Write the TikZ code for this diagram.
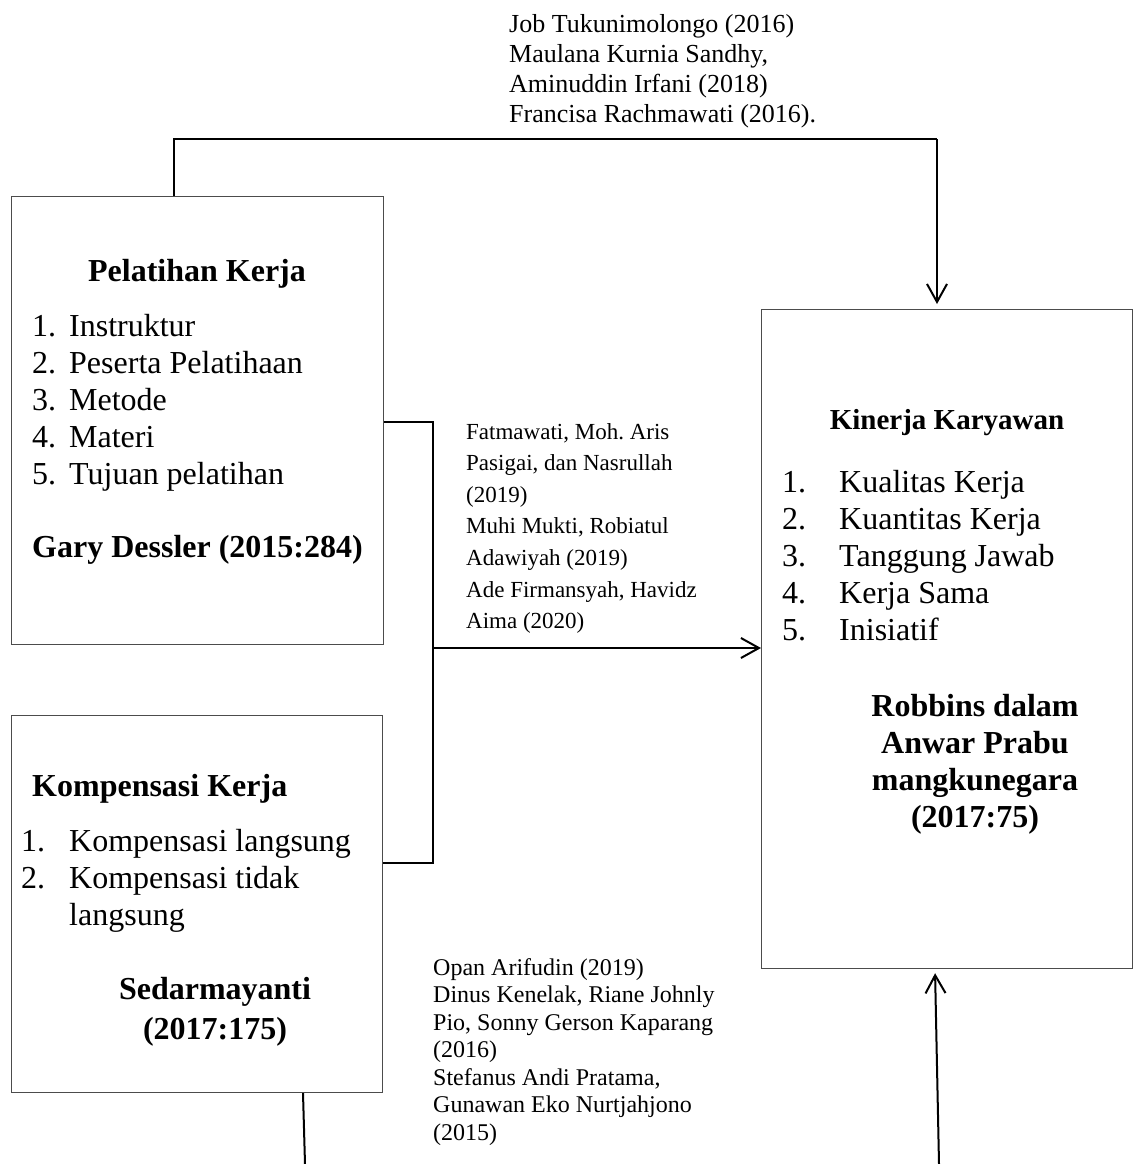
\documentclass[tikz,border=0pt]{standalone}
\usepackage{fontspec}
\setmainfont{Liberation Serif}
\usetikzlibrary{arrows.meta}
\frenchspacing
\begin{document}
\begin{tikzpicture}[x=1pt,y=-1pt,
 box/.style={draw=black!70, line width=1.2pt, inner sep=0pt, anchor=north west},
 conn/.style={draw=black, line width=2pt},
 arr/.style={conn, -{Straight Barb[length=18pt,width=20pt,line width=2pt]}},
 txt/.style={inner sep=0pt, align=left, anchor=north west},
 lbl/.style={inner sep=0pt},
 bigr/.style={font=\fontsize{32}{37}\selectfont},
 bigb/.style={font=\bfseries\fontsize{32}{37}\selectfont},
 ]
\useasboundingbox (0,0) rectangle (1133,1164);

% boxes
\node[box, minimum width=372pt, minimum height=448pt] (pel) at (11,196) {};
\node[box, minimum width=371pt, minimum height=377pt] (komp) at (11,715) {};
\node[box, minimum width=371pt, minimum height=659pt] (kin) at (761,309) {};

% Pelatihan Kerja
\node[lbl, bigb] (ptitle) at (197,274) {Pelatihan Kerja};
\node[txt, bigr] (plist) at (32,314) {\makebox[37pt][l]{1.}Instruktur\\
\makebox[37pt][l]{2.}Peserta Pelatihaan\\
\makebox[37pt][l]{3.}Metode\\
\makebox[37pt][l]{4.}Materi\\
\makebox[37pt][l]{5.}Tujuan pelatihan};
\node[lbl, bigb, anchor=west] (pref) at (32,550) {Gary Dessler (2015:284)};

% Kompensasi Kerja
\node[lbl, bigb, anchor=west] (ktitle) at (32,789) {Kompensasi Kerja};
\node[txt, bigr] (klist) at (21,829) {\makebox[48pt][l]{1.}Kompensasi langsung\\
\makebox[48pt][l]{2.}Kompensasi tidak\\
\hspace*{48pt}langsung};
\node[txt, anchor=north, align=center, font=\bfseries\fontsize{32}{40}\selectfont] (kref) at (215,977) {Sedarmayanti\\(2017:175)};

% Kinerja Karyawan
\node[lbl, font=\bfseries\fontsize{29}{34}\selectfont] (ntitle) at (947,423) {Kinerja Karyawan};
\node[txt, bigr] (nlist) at (782,470) {\makebox[57pt][l]{1.}Kualitas Kerja\\
\makebox[57pt][l]{2.}Kuantitas Kerja\\
\makebox[57pt][l]{3.}Tanggung Jawab\\
\makebox[57pt][l]{4.}Kerja Sama\\
\makebox[57pt][l]{5.}Inisiatif};
\node[txt, anchor=north, align=center, bigb] (nref) at (975,694) {Robbins dalam\\Anwar Prabu\\mangkunegara\\(2017:75)};

% citations
\node[txt, font=\fontsize{26}{30}\selectfont] (ctop) at (509,14) {Job Tukunimolongo (2016)\\Maulana Kurnia Sandhy,\\Aminuddin Irfani (2018)\\Francisa Rachmawati (2016).};
\node[txt, font=\fontsize{23}{31.6}\selectfont] (cmid) at (466,423) {Fatmawati, Moh. Aris\\Pasigai, dan Nasrullah\\(2019)\\Muhi Mukti, Robiatul\\Adawiyah (2019)\\Ade Firmansyah, Havidz\\Aima (2020)};
\node[txt, font=\fontsize{24}{27.5}\selectfont] (cbot) at (433,958) {Opan Arifudin (2019)\\Dinus Kenelak, Riane Johnly\\Pio, Sonny Gerson Kaparang\\(2016)\\Stefanus Andi Pratama,\\Gunawan Eko Nurtjahjono\\(2015)};

% connectors
\coordinate (t1) at (174,139);
\coordinate (t2) at (937,139);
\draw[conn] (pel.north -| t1) -- (t1) -- (t2);
\draw[arr, shorten >=5pt] (t2) -- (t2 |- kin.north);

\coordinate (j1) at (433,422);
\coordinate (j2) at (433,863);
\coordinate (jm) at (433,648);
\draw[conn] (pel.east |- j1) -- (j1) -- (j2) -- (komp.east |- j2);
\draw[arr] (jm) -- (kin.west |- jm);

\coordinate (kbx) at (303,1164);
\coordinate (kb) at (305,1164);
\draw[conn] (komp.south -| kbx) -- (kb);

\coordinate (ub) at (939,1164);
\coordinate (ux) at (935,0);
\draw[arr, shorten >=4pt] (ub) -- (kin.south -| ux);
\end{tikzpicture}
\end{document}
